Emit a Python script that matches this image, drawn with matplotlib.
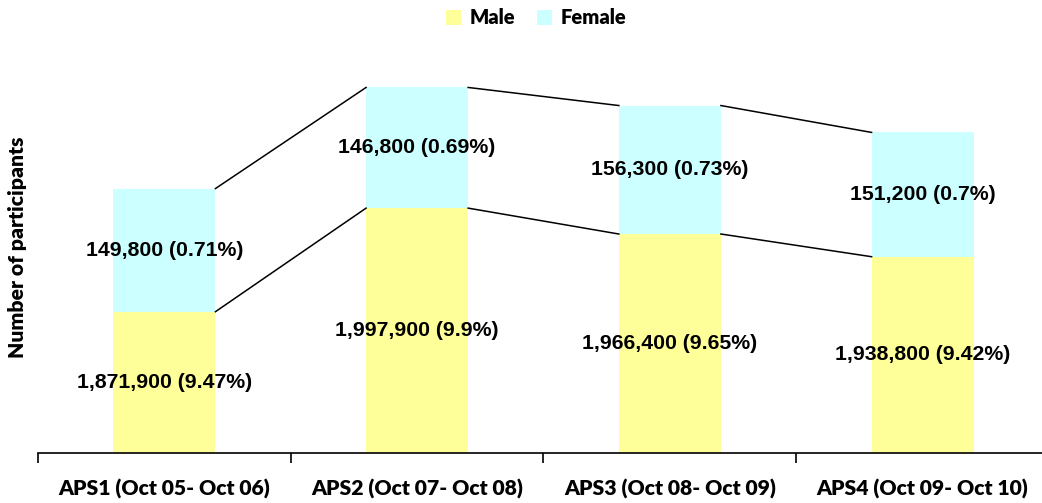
import matplotlib
matplotlib.use("Agg")
import matplotlib.pyplot as plt
from matplotlib.patches import Patch
import numpy as np

categories = ["APS1 (Oct 05- Oct 06)", "APS2 (Oct 07- Oct 08)",
              "APS3 (Oct 08- Oct 09)", "APS4 (Oct 09- Oct 10)"]
male = [1871900, 1997900, 1966400, 1938800]
female = [149800, 146800, 156300, 151200]
male_labels = ["1,871,900 (9.47%)", "1,997,900 (9.9%)", "1,966,400 (9.65%)", "1,938,800 (9.42%)"]
female_labels = ["149,800 (0.71%)", "146,800 (0.69%)", "156,300 (0.73%)", "151,200 (0.7%)"]

W, H = 1042, 503
fig = plt.figure(figsize=(W / 100, H / 100), dpi=100)
ax = fig.add_axes([38 / W, 1 - 453 / H, 1011 / W, 411 / H])

x = np.arange(len(categories))
bw = 0.404
c_male = "#FFFF99"
c_female = "#CCFFFF"
ax.bar(x, male, width=bw, color=c_male, bottom=0, zorder=2)
ax.bar(x, female, width=bw, bottom=male, color=c_female, zorder=2)

ymin, ymax = 1700000, 2200000
ax.set_ylim(ymin, ymax)
ax.set_xlim(-0.5, len(categories) - 0.5)

totals = [m + f for m, f in zip(male, female)]
for i in range(len(categories) - 1):
    ax.plot([x[i] + bw / 2, x[i + 1] - bw / 2], [male[i], male[i + 1]], color="black", lw=1.1, zorder=3)
    ax.plot([x[i] + bw / 2, x[i + 1] - bw / 2], [totals[i], totals[i + 1]], color="black", lw=1.1, zorder=3)

lab_font = dict(family=["Liberation Sans", "DejaVu Sans"], fontsize=15.3, fontweight="bold", color="black")
for i in range(len(categories)):
    ax.text(x[i], (ymin + male[i]) / 2, male_labels[i], ha="center", va="center", zorder=4, **lab_font)
    ax.text(x[i], male[i] + female[i] / 2, female_labels[i], ha="center", va="center", zorder=4, **lab_font)

for s in ["left", "right", "top"]:
    ax.spines[s].set_visible(False)
ax.spines["bottom"].set_linewidth(1.2)
ax.set_yticks([])
ax.set_xticks(np.arange(-0.5, len(categories), 1.0), minor=False)
ax.set_xticklabels([])
ax.tick_params(axis="x", which="major", direction="out", length=7, width=1.2)
ax.set_xticks(x, minor=True)
ax.set_xticklabels(categories, minor=True)
ax.tick_params(axis="x", which="minor", length=0, pad=19)
for t in ax.get_xticklabels(minor=True):
    t.set_fontfamily(["Lato", "DejaVu Sans"])
    t.set_fontweight("heavy")
    t.set_fontsize(15.2)

ax.set_ylabel("Number of participants", fontfamily=["Lato", "DejaVu Sans"], fontweight="heavy", fontsize=15.2)
ax.yaxis.set_label_coords(-11 / 1011, 0.5)

handles = [Patch(facecolor=c_male, edgecolor="none"), Patch(facecolor=c_female, edgecolor="none")]
fig.legend(handles, ["Male", "Female"], loc="center", bbox_to_anchor=(536 / W, 1 - 18 / H), ncol=2,
           frameon=False, prop=dict(family=["Lato", "DejaVu Sans"], weight="heavy", size=14.5),
           handlelength=0.75, handleheight=0.75, handletextpad=0.4, columnspacing=1.1)

fig.savefig("out.png", dpi=100)
